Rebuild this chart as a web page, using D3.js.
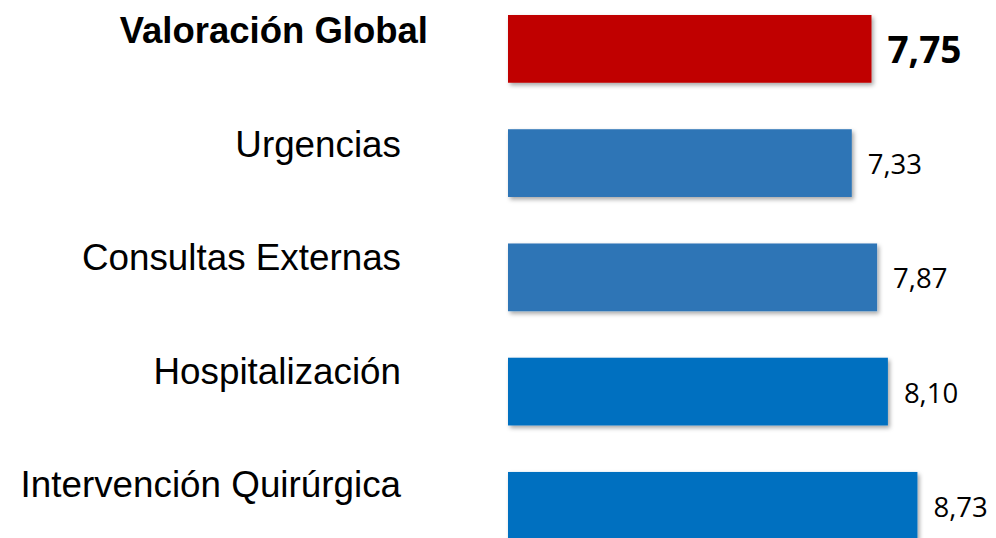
<!DOCTYPE html>
<html>
<head>
<meta charset="utf-8">
<script src="https://cdn.jsdelivr.net/npm/d3@7"></script>
<style>
  body { margin: 0; background: #fff; }
</style>
</head>
<body>
<script>
const w = 996
const h = 538

const categories = ['Valoración Global', 'Urgencias', 'Consultas Externas', 'Hospitalización', 'Intervención Quirúrgica']
const values = [7.75, 7.33, 7.87, 8.10, 8.73]
const colors = ['#c00000', '#2e75b6', '#2e75b6', '#0070c0', '#0070c0']
const highlight = 'Valoración Global'

const data = categories.map((c, i) => ({ name: c, value: values[i], color: colors[i] }))

const svg = d3.select('body')
	.append('svg')
	.attr('width', w)
	.attr('height', h)

const defs = svg.append('defs')
defs.append('filter')
	.attr('id', 'shadow')
	.attr('x', '-5%').attr('y', '-20%')
	.attr('width', '115%').attr('height', '150%')
	.append('feDropShadow')
	.attr('dx', 2)
	.attr('dy', 2.5)
	.attr('stdDeviation', 2)
	.attr('flood-color', '#000')
	.attr('flood-opacity', 0.35)

const xScale = d3.scaleLinear()
	.domain([0, 10])
	.range([508, 977])

const yScale = d3.scaleBand()
	.domain(categories)
	.range([15, 539.7])
	.paddingInner(0.407)
	.paddingOuter(0)

const fmt = v => d3.format('.2f')(v).replace('.', ',')

svg.selectAll('rect.bar')
	.data(data)
	.enter()
	.append('rect')
	.attr('class', 'bar')
	.attr('x', xScale(0))
	.attr('y', d => yScale(d.name))
	.attr('width', d => xScale(d.value) - xScale(0))
	.attr('height', yScale.bandwidth())
	.attr('fill', d => d.color)
	.attr('filter', 'url(#shadow)')

// category labels on the left
svg.selectAll('text.cat')
	.data(data)
	.enter()
	.append('text')
	.attr('class', 'cat')
	.text(d => d.name)
	.attr('x', d => d.name === highlight ? 428 : 401)
	.attr('y', (d, i) => yScale(d.name) + yScale.bandwidth() / 2 - 5.5 - i * 0.8)
	.attr('text-anchor', 'end')
	.attr('font-family', '"Liberation Sans", Arial, sans-serif')
	.attr('font-size', d => d.name === highlight ? '36.5px' : '36.8px')
	.attr('font-weight', d => d.name === highlight ? 'bold' : 'normal')
	.attr('fill', '#000')

// value labels
svg.selectAll('text.val')
	.data(data)
	.enter()
	.append('text')
	.attr('class', 'val')
	.text(d => fmt(d.value))
	.attr('x', d => xScale(d.value) + 16)
	.attr('y', d => yScale(d.name) + yScale.bandwidth() / 2 + (d.name === highlight ? 14 : 11))
	.attr('font-family', '"Open Sans", "Noto Sans", sans-serif')
	.attr('font-size', d => d.name === highlight ? '37px' : '27.5px')
	.attr('font-weight', d => d.name === highlight ? 'bold' : 'normal')
	.attr('fill', '#000')
</script>
</body>
</html>
